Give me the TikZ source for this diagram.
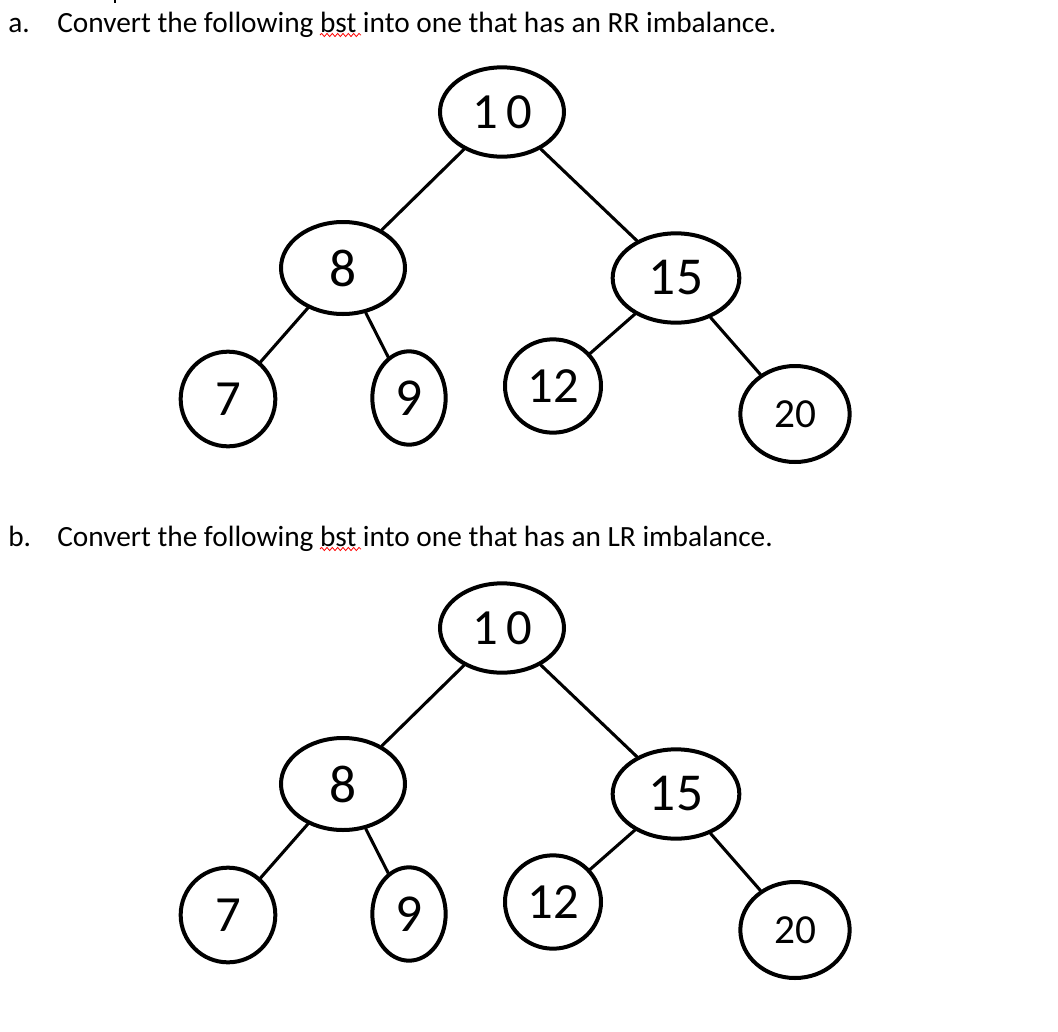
\documentclass[tikz,border=0pt]{standalone}
\usepackage{fontspec}
\setmainfont{Carlito}
\usetikzlibrary{shapes.geometric,decorations.pathmorphing}
\tikzset{
  nd/.style={draw, ellipse, line width=3pt, inner sep=0pt, font=\fontsize{38}{42}\selectfont},
  ed/.style={line width=2.3pt, line cap=round},
  qtext/.style={anchor=base west, inner sep=0pt, font=\fontsize{22}{26}\selectfont},
  squig/.style={red, line width=0.6pt, decorate, decoration={snake, amplitude=1.2pt, segment length=4pt}}
}
\newcommand\mytree[2]{%
  \node[nd, minimum width=93pt, minimum height=67pt] (#110) at (502,{112+#2}) {1\,0};
  \node[nd, minimum width=93pt, minimum height=69pt, font=\fontsize{40}{44}\selectfont] (#18) at (343,{268+#2}) {8};
  \node[nd, minimum width=95pt, minimum height=67pt, font=\fontsize{40}{44}\selectfont] (#115) at (676,{278+#2}) {15};
  \node[nd, minimum width=71pt, minimum height=71pt] (#17) at (228,{399+#2}) {7};
  \node[nd, minimum width=55pt, minimum height=70pt, font=\fontsize{40}{44}\selectfont] (#19) at (409,{398+#2}) {9};
  \node[nd, minimum width=72pt, minimum height=70pt] (#112) at (553,{386+#2}) {12};
  \node[nd, minimum width=82pt, minimum height=72pt, font=\fontsize{31}{34}\selectfont] (#120) at (795,{414+#2}) {20};
  \draw[ed] (#110) -- (#18);
  \draw[ed] (#110) -- (#115);
  \draw[ed] (#18) -- (#17);
  \draw[ed] (#18) -- (#19);
  \draw[ed] (#115) -- (#112);
  \draw[ed] (#115) -- (#120);
}
\begin{document}
\begin{tikzpicture}[x=0.75pt,y=-0.75pt]
\useasboundingbox[fill=white] (0,0) rectangle (1058,1032);
\coordinate (tk1) at (115,0);
\coordinate (tk2) at (115,3);
\draw[line width=1pt] (tk1) -- (tk2);
\node[qtext] (la) at (8,32) {a.};
\node[qtext] (qa) at (57,32) {Convert the following bst into one that has an RR imbalance.};
\coordinate (sa1) at (320,35);
\coordinate (sa2) at (361,35);
\draw[squig] (sa1) -- (sa2);
\node[qtext] (lb) at (8,546) {b.};
\node[qtext] (qb) at (57,546) {Convert the following bst into one that has an LR imbalance.};
\coordinate (sb1) at (320,549);
\coordinate (sb2) at (361,549);
\draw[squig] (sb1) -- (sb2);
\mytree{a}{0}
\mytree{b}{516}
\end{tikzpicture}
\end{document}
